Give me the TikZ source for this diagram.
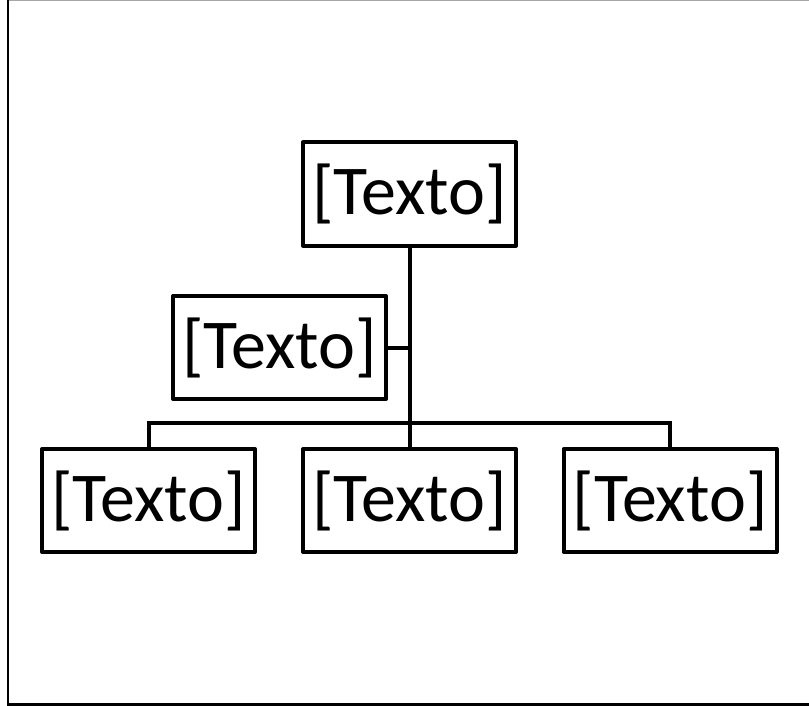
\documentclass[tikz,border=0pt]{standalone}
\usepackage{fontspec}
\setmainfont{Carlito}
\begin{document}
\begin{tikzpicture}[x=1pt,y=-1pt,
  orgbox/.style={draw=black,line width=4pt,line join=round,fill=white,
    minimum width=213pt,minimum height=103pt,inner sep=0pt,
    font=\fontsize{70}{84}\selectfont},
  link/.style={draw=black,line width=4pt}]
\useasboundingbox (0,0) rectangle (809,706);
% page frame
\draw[gray!70,line width=1pt] (8,1) -- (809,1);
\draw[black,line width=2.2pt] (8,0) -- (8,704.5) -- (809,704.5);
% boxes
\node[orgbox] (head) at (409.5,194) {\raisebox{-3pt}{[Texto]}};
\node[orgbox] (asst) at (279.5,347.5) {\raisebox{-3pt}{[Texto]}};
\node[orgbox] (left) at (148.5,500.5) {\raisebox{-3pt}{[Texto]}};
\node[orgbox] (mid) at (409.5,500.5) {\raisebox{-3pt}{[Texto]}};
\node[orgbox] (right) at (670,500.5) {\raisebox{-3pt}{[Texto]}};
% connectors
\coordinate (bus) at (409.5,423);
\draw[link] (head.south) -- (mid.north);
\draw[link] (asst.east) -- (asst.east -| head.south);
\draw[link] (left.north) |- (bus) -| (right.north);
\end{tikzpicture}
\end{document}
